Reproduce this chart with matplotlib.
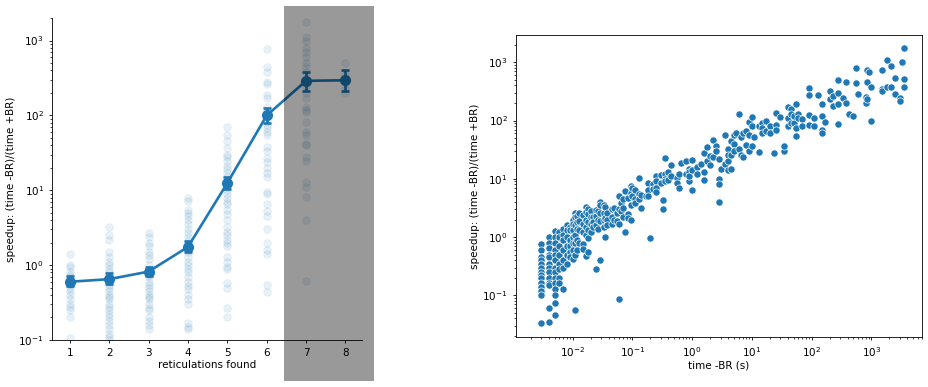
import numpy as np
import matplotlib.pyplot as plt
from matplotlib.patches import Rectangle

# left panel: speedup per number of reticulations found
cats = [1, 2, 3, 4, 5, 6, 7, 8]
speed_by_cat = [
    [1.4, 1.0, 0.95, 0.8, 0.75, 0.7, 0.65, 0.6, 0.55, 0.5, 0.45, 0.4, 0.35, 0.3, 0.28, 0.25, 0.2, 0.105],
    [3.2, 2.5, 2.2, 1.5, 1.3, 1.1, 1.0, 0.9, 0.8, 0.7, 0.65, 0.6, 0.55, 0.5, 0.45, 0.4, 0.37, 0.35,
     0.3, 0.28, 0.25, 0.22, 0.2, 0.18, 0.16, 0.14, 0.12, 0.11, 0.1],
    [2.7, 2.4, 2.0, 1.8, 1.5, 1.35, 1.2, 1.0, 0.9, 0.85, 0.8, 0.75, 0.7, 0.6, 0.55, 0.5, 0.45, 0.4,
     0.38, 0.35, 0.3, 0.27, 0.25, 0.2, 0.18, 0.16, 0.14],
    [7.9, 7.2, 5.5, 5.0, 4.5, 4.0, 3.5, 3.0, 2.7, 2.4, 2.1, 1.9, 1.8, 1.7, 1.6, 1.5, 1.3, 1.1, 1.0,
     0.9, 0.8, 0.7, 0.6, 0.52, 0.48, 0.4, 0.35, 0.3, 0.17, 0.15, 0.14],
    [70, 55, 45, 37, 30, 28, 25, 21, 19, 17, 15, 13, 12, 11, 10, 9, 8, 7, 6.5, 5.5, 4.8, 4.0, 3.2,
     2.8, 2.5, 2.2, 2.0, 1.8, 1.3, 1.1, 0.95, 0.9, 0.58, 0.5, 0.27, 0.2],
    [760, 440, 380, 280, 260, 190, 170, 130, 115, 100, 95, 85, 75, 68, 60, 55, 38, 33, 27, 24, 20,
     17, 15, 9.5, 9.0, 6.5, 5.3, 4.5, 3.0, 2.0, 1.6, 1.4, 0.55, 0.44],
    [1750, 1100, 1000, 800, 700, 600, 500, 450, 380, 300, 280, 250, 200, 170, 130, 120, 110, 82, 60,
     55, 42, 40, 28, 25, 13, 11, 8.2, 4.0, 0.62],
    [500, 350, 230, 200],
]
mean_speed = [0.6, 0.65, 0.82, 1.75, 12.5, 100, 290, 295]
ci_low = [0.52, 0.56, 0.72, 1.5, 10.5, 80, 210, 215]
ci_high = [0.72, 0.78, 0.95, 2.1, 15, 125, 380, 410]

# right panel: (time -BR, speedup) pairs
pts = {
    0.003: [0.75, 0.6, 0.45, 0.4, 0.35, 0.3, 0.25, 0.22, 0.2, 0.16, 0.14, 0.12, 0.1, 0.034],
    0.004: [1.0, 0.8, 0.65, 0.5, 0.45, 0.35, 0.3, 0.25, 0.2, 0.16, 0.15, 0.06, 0.035],
    0.005: [1.25, 1.0, 0.8, 0.6, 0.5, 0.4, 0.3, 0.25, 0.2, 0.16, 0.13, 0.1, 0.075, 0.045],
    0.006: [1.2, 1.0, 0.7, 0.5, 0.35, 0.28, 0.2, 0.16],
    0.007: [1.4, 1.1, 0.9, 0.6, 0.4, 0.3, 0.13],
    0.008: [1.6, 1.3, 1.0, 0.7, 0.5, 0.35],
    0.009: [1.5, 1.3, 0.9, 0.7, 0.55, 0.45],
    0.010: [2.0, 1.7, 1.3, 1.0, 0.8, 0.6, 0.42],
    0.011: [2.6, 2.2, 1.6, 1.1, 0.8, 0.5, 0.057],
    0.012: [2.3, 1.8, 1.4, 0.9, 0.6],
    0.013: [2.6, 1.9, 1.3, 0.8],
    0.015: [2.4, 1.7, 1.2, 0.75, 0.62],
    0.017: [3.3, 2.7, 2.0, 1.5, 1.1, 0.48],
    0.018: [3.0, 2.5, 1.8, 1.3, 0.95, 0.55],
    0.020: [2.8, 2.2, 1.7, 1.2],
    0.022: [2.2, 1.8, 1.5],
    0.025: [2.9, 2.3, 1.6, 0.28],
    0.027: [2.8, 2.0, 1.4],
    0.029: [4.0, 3.5, 2.6, 1.9, 0.4],
    0.033: [3.6, 2.6, 2.0, 1.5],
    0.035: [3.3, 2.1, 1.0],
    0.038: [2.6, 2.0, 1.6],
    0.045: [3.0, 2.2, 1.7],
    0.050: [3.1, 2.0],
    0.055: [2.6, 1.9],
    0.060: [5.0, 3.0, 1.7, 0.088],
    0.065: [3.8, 2.8],
    0.070: [4.5, 3.2, 2.2],
    0.075: [6.2, 1.2],
    0.085: [4.7, 2.5, 2.1],
    0.095: [7.6, 5.6, 3.5, 2.0],
    0.10: [7.0, 5.0],
    0.11: [6.5, 4.5, 3.9],
    0.13: [10.5, 5.5, 4.5],
    0.14: [5.2, 3.2],
    0.17: [5.0],
    0.18: [8.5, 6.5, 5.0],
    0.20: [0.95],
    0.22: [8.0, 6.8],
    0.25: [11.0, 9.0, 7.0, 6.0],
    0.30: [11.5, 8.5],
    0.33: [3.0, 4.4],
    0.35: [22.5, 12, 10, 9],
    0.40: [13, 9.5],
    0.45: [17.5, 11],
    0.55: [10.5, 8.5],
    0.60: [7.0, 12],
    0.65: [18.5],
    0.80: [20, 12],
    0.90: [15, 13, 9.3, 11],
    1.0: [21, 14, 6.5],
    1.2: [16, 12],
    1.4: [18],
    1.6: [28, 13, 9.5],
    1.8: [35, 20],
    2.0: [25, 17],
    2.2: [46, 24],
    2.5: [36, 30],
    2.8: [22, 10, 8.2, 4.0],
    3.0: [15],
    3.5: [56, 18],
    4.0: [33, 26, 20, 14],
    4.5: [44, 15, 26],
    5.0: [57, 40, 30],
    5.5: [62],
    6.0: [130, 32],
    6.5: [52, 26],
    7.0: [60, 24],
    8.0: [65, 38],
    9.0: [95, 56, 30],
    10: [115, 80, 37],
    11: [52],
    13: [80, 29],
    15: [90, 75, 60],
    17: [100, 65],
    20: [80, 62],
    23: [28],
    25: [135, 85, 70],
    30: [115],
    35: [30, 37],
    40: [170, 110, 80],
    45: [160, 130, 90],
    50: [90, 120],
    55: [195, 75, 55],
    60: [130, 110],
    70: [105, 80],
    90: [360, 280, 125, 85],
    110: [110, 80],
    130: [280],
    150: [190, 120, 70, 60],
    170: [95],
    200: [320, 230],
    230: [260, 180],
    280: [500, 300, 190, 88],
    330: [240],
    380: [450, 200],
    420: [130],
    500: [120],
    550: [790, 440],
    600: [290],
    800: [250, 200],
    850: [740, 450, 230],
    900: [670],
    1000: [380, 100],
    1500: [350, 320, 740],
    1800: [1100, 370],
    2100: [880, 370],
    2500: [530, 290],
    3000: [240, 220],
    3200: [1030],
    3500: [1750, 520, 370],
}
time_br = [t for t, v in pts.items() for _ in v]
speedup = [s for v in pts.values() for s in v]

plt.rcParams['font.size'] = 7.5
plt.rcParams['axes.linewidth'] = 0.6
for a in ['xtick', 'ytick']:
    plt.rcParams[a + '.major.size'] = 2.4
    plt.rcParams[a + '.minor.size'] = 1.4
    plt.rcParams[a + '.major.width'] = 0.6
    plt.rcParams[a + '.minor.width'] = 0.5

blue = '#1f77b4'
fig = plt.figure(figsize=(9.29, 3.87), dpi=100)

ax1 = fig.add_axes([0.056, 0.1214, 0.3337, 0.832])
for c, vals in zip(cats, speed_by_cat):
    ax1.scatter([c] * len(vals), vals, s=30, color=blue, alpha=0.1, edgecolors=blue, linewidths=0.5)
err = [np.array(mean_speed) - np.array(ci_low), np.array(ci_high) - np.array(mean_speed)]
ax1.errorbar(cats, mean_speed, yerr=err, color=blue, lw=1.9, marker='o', ms=7,
             elinewidth=1.9, capsize=3, capthick=1.9, zorder=5)
ax1.set_yscale('log')
ax1.set_ylim(0.1, 2000)
ax1.set_xlim(0.55, 8.42)
ax1.set_xticks(cats)
ax1.set_xlabel('reticulations found', labelpad=1)
ax1.set_ylabel('speedup: (time -BR)/(time +BR)', labelpad=2)
ax1.spines['top'].set_visible(False)
ax1.spines['right'].set_visible(False)

ax2 = fig.add_axes([0.5554, 0.1284, 0.437, 0.782])
ax2.scatter(time_br, speedup, s=27, color=blue, edgecolors='white', linewidths=0.5)
ax2.set_xscale('log')
ax2.set_yscale('log')
ax2.set_xlim(0.00113, 7000)
ax2.set_ylim(0.019, 2980)
ax2.set_xlabel('time -BR (s)', labelpad=1)
ax2.set_ylabel('speedup: (time -BR)/(time +BR)', labelpad=2)

# grey band over the 7-8 region
fig.patches.append(Rectangle((0.3057, 0.0155), 0.0969, 0.969, transform=fig.transFigure,
                             facecolor='black', alpha=0.4, edgecolor='none', zorder=10))

fig.savefig('out.png', dpi=100)
